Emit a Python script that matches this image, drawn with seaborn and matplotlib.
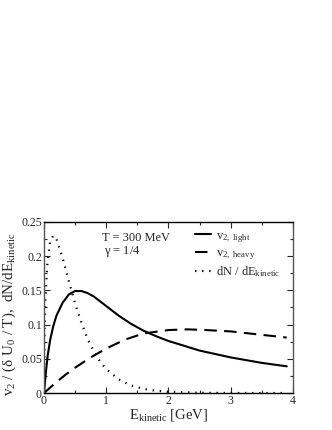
import numpy as np
import pandas as pd
import matplotlib
matplotlib.use("Agg")
import matplotlib.pyplot as plt
from matplotlib.ticker import MultipleLocator
import seaborn as sns

# values
e_light = [0, 0.03, 0.06, 0.1, 0.15, 0.2, 0.3, 0.4, 0.5, 0.6, 0.7, 0.8, 1.0, 1.2,
           1.4, 1.6, 1.8, 2.0, 2.5, 3.0, 3.5, 3.9]
v2_light = [0, 0.03, 0.055, 0.078, 0.098, 0.113, 0.132, 0.144, 0.149, 0.149, 0.146,
            0.141, 0.127, 0.113, 0.101, 0.091, 0.083, 0.076, 0.062, 0.052, 0.044, 0.039]

e_heavy = [0, 0.1, 0.2, 0.35, 0.5, 0.75, 1.0, 1.3, 1.6, 2.0, 2.3, 2.6, 3.0, 3.5, 3.9]
v2_heavy = [0, 0.008, 0.016, 0.027, 0.037, 0.052, 0.065, 0.078, 0.087, 0.092, 0.093,
            0.092, 0.09, 0.085, 0.081]

e_dn = [0, 0.01, 0.02, 0.05, 0.1, 0.15, 0.2, 0.3, 0.4, 0.5, 0.6, 0.7, 0.8, 0.9, 1.0,
        1.2, 1.4, 1.6, 1.8, 2.0, 2.5, 3.0, 3.5, 3.9]
dn_de = [0, 0.095, 0.13, 0.185, 0.222, 0.23, 0.225, 0.197, 0.163, 0.131, 0.103, 0.079,
         0.061, 0.046, 0.035, 0.02, 0.011, 0.006, 0.0033, 0.0018, 0.0004, 0.0001, 0, 0]

sns.set_style("ticks")
plt.rcParams["font.family"] = ["Liberation Serif", "DejaVu Serif"]
plt.rcParams["mathtext.fontset"] = "custom"
plt.rcParams["mathtext.rm"] = "Liberation Serif"
plt.rcParams["mathtext.it"] = "Liberation Serif"

fig = plt.figure(figsize=(3.32, 4.30), dpi=100)
ax = fig.add_axes([0.1325, 0.086, 0.75, 0.398])

df_l = pd.DataFrame({"E": e_light, "v": v2_light})
df_h = pd.DataFrame({"E": e_heavy, "v": v2_heavy})
df_d = pd.DataFrame({"E": e_dn, "v": dn_de})

sns.lineplot(data=df_l, x="E", y="v", ax=ax, color="black", lw=1.5,
             label=r"v$_{\rm 2,\ light}$")
sns.lineplot(data=df_h, x="E", y="v", ax=ax, color="black", lw=1.5,
             label=r"v$_{\rm 2,\ heavy}$")
ax.lines[-1].set_dashes([6, 3.5])
sns.lineplot(data=df_d, x="E", y="v", ax=ax, color="black", lw=1.6,
             label=r"dN / dE$_{\rm kinetic}$")
ax.lines[-1].set_linestyle((0, (0.6, 2.6)))

ax.set_xlim(0, 4)
ax.set_ylim(0, 0.25)
ax.xaxis.set_major_locator(MultipleLocator(1))
ax.xaxis.set_minor_locator(MultipleLocator(0.5))
ax.yaxis.set_major_locator(MultipleLocator(0.05))
ax.yaxis.set_minor_locator(MultipleLocator(0.025))
ax.yaxis.set_major_formatter(plt.FuncFormatter(lambda v, p: f"{v:g}"))
ax.tick_params(which="both", direction="in", top=True, right=True, labelsize=8.5,
               pad=1.5)
ax.tick_params(which="major", length=4, width=0.8)
ax.tick_params(which="minor", length=2, width=0.8)

for side in ["top", "bottom"]:
    ax.spines[side].set_color("black")
    ax.spines[side].set_linewidth(1.0)
for side in ["left", "right"]:
    ax.spines[side].set_color("#555555")
    ax.spines[side].set_linewidth(1.0)

ax.set_xlabel(r"E$_{\rm kinetic}$ [GeV]", fontsize=10.5, labelpad=0)
ax.set_ylabel(r"v$_2$ / ($\delta$ U$_0$ / T),  dN/dE$_{\rm kinetic}$", fontsize=10.8)
ax.yaxis.set_label_coords(-0.105, 0.46)

ax.text(0.93, 0.226, "T = 300 MeV", fontsize=9, va="center")
ax.text(0.97, 0.207, r"$\gamma$ = 1/4", fontsize=9, va="center")

leg = ax.legend(loc="upper right", bbox_to_anchor=(0.985, 1.005), frameon=False,
                fontsize=9, handlelength=1.3, handletextpad=0.4, labelspacing=0.2,
                borderaxespad=0.3)

fig.savefig("out.png", dpi=100)
